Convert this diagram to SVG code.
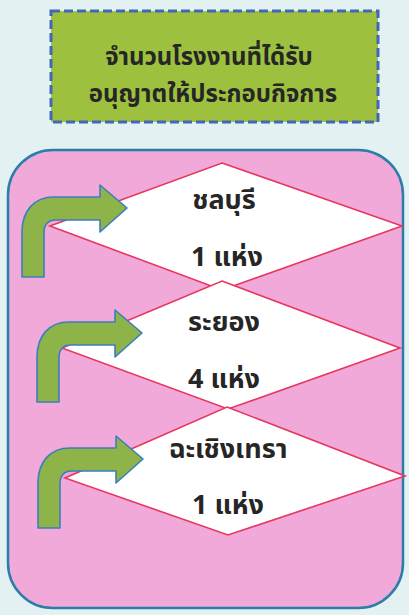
<svg xmlns="http://www.w3.org/2000/svg" width="409" height="615" viewBox="0 0 409 615">
<defs>
<style>
.t{font-family:"Noto Sans Thai","Noto Sans","DejaVu Sans",sans-serif;font-weight:bold;fill:#262626;text-anchor:middle}
.h{font-size:24px}
.d{font-size:27px}
.dia{fill:#ffffff;stroke:#e8365f;stroke-width:1.6}
.arr{fill:#8db349;stroke:#3a7fc0;stroke-width:1.6;stroke-linejoin:round}
</style>
<path id="bent" d="M0,80 L0,35 C0,14 12,0 32,0 L78,0 L78,-12 L105,11 L78,35 L78,23 L34,23 C26,23 22,28 22,36 L22,80 Z"/>
</defs>
<rect width="409" height="615" fill="#e3f1f2"/>
<g id="header">
<rect x="51" y="11" width="327" height="111" fill="#9dc13e" stroke="#4466b8" stroke-width="3" stroke-dasharray="9,4"/>
<text class="t h" x="209" y="65">จำนวนโรงงานที่ได้รับ</text>
<text class="t h" x="213" y="102" font-size="25">อนุญาตให้ประกอบกิจการ</text>
</g>
<g id="panel">
<rect x="8" y="150" width="395" height="458" rx="45" ry="45" fill="#f0a9d8" stroke="#2a7ea8" stroke-width="2.5"/>
</g>
<g id="node-chonburi">
<polygon class="dia" points="222,163 402,226 222,290 50,226"/>
<text class="t d" x="224" y="209">ชลบุรี</text>
<text class="t d" x="227" y="266">1 แห่ง</text>
</g>
<g id="node-rayong">
<polygon class="dia" points="222,281 400,348 228,409 62,348"/>
<text class="t d" x="224" y="331">ระยอง</text>
<text class="t d" x="224" y="388">4 แห่ง</text>
</g>
<g id="node-chachoengsao">
<polygon class="dia" points="227,407 405,476 228,535 65,478"/>
<text class="t d" x="228" y="458">ฉะเชิงเทรา</text>
<text class="t d" x="228" y="514">1 แห่ง</text>
</g>
<g id="connectors">
<use href="#bent" class="arr" transform="translate(22,197)"/>
<use href="#bent" class="arr" transform="translate(37,322)"/>
<use href="#bent" class="arr" transform="translate(38,448)"/>
</g>
</svg>
